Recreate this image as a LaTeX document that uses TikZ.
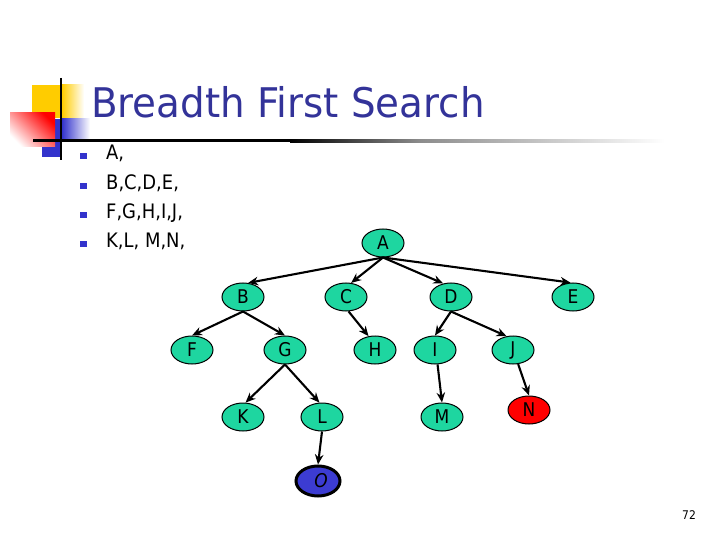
\documentclass[tikz,border=0pt]{standalone}
\usepackage{fontspec}
\setmainfont{DejaVu Sans}[FakeStretch=0.9]
\newfontfamily\titlefont{DejaVu Sans}[FakeStretch=0.95]
\usetikzlibrary{shapes.geometric,arrows.meta}
\definecolor{titleblue}{RGB}{51,51,153}
\definecolor{bulletblue}{RGB}{51,51,204}
\definecolor{nodegreen}{RGB}{30,214,160}
\definecolor{pixyellow}{RGB}{255,204,0}
\definecolor{goalblue}{RGB}{60,60,210}

\begin{document}
\begin{tikzpicture}[x=1bp, y=-1bp,
  vertex/.style={ellipse, draw, line width=1bp, fill=nodegreen,
    minimum width=42bp, minimum height=28bp, inner sep=0pt,
    font=\fontsize{19}{19}\selectfont},
  edge/.style={line width=2.1bp, -{Stealth[length=10bp,width=8.5bp]}},
  listline/.style={anchor=base west, inner sep=0pt, font=\fontsize{20}{20}\selectfont}]
  \useasboundingbox (0,0) rectangle (720,540);

  % corner squares
  \fill[pixyellow] (32,85) rectangle (62,118);
  \shade[left color=pixyellow, right color=white] (62,85) rectangle (84,118);
  \fill[bulletblue] (42,119) rectangle (62,157);
  \shade[left color=bulletblue, right color=white] (62,119) rectangle (90,140);
  \shade[top color=red, bottom color=white, shading angle=-45] (10,113) rectangle (55,147);
  \draw[line width=2.5bp] (61,78) -- (61,160);
  \fill[black] (33,139.5) rectangle (290,142.5);
  \shade[left color=black, right color=black!45] (290,139.5) rectangle (420,142.5);
  \shade[left color=black!45, right color=white] (420,139.5) rectangle (665,142.5);

  \node[anchor=base west, inner sep=0pt, text=titleblue,
    font=\titlefont\fontsize{41}{41}\selectfont] (title) at (91,118) {Breadth First Search};

  % the levels
  \fill[bulletblue] (80,153) rectangle (87,159);
  \node[listline] (l1) at (106,160) {A,};
  \fill[bulletblue] (80,183) rectangle (87,189);
  \node[listline] (l2) at (106,190) {B,C,D,E,};
  \fill[bulletblue] (80,212) rectangle (87,218);
  \node[listline] (l3) at (106,219) {F,G,H,I,J,};
  \fill[bulletblue] (80,241) rectangle (87,247);
  \node[listline] (l4) at (106,248) {K,L, M,N,};

  % the tree
  \node[vertex] (A) at (383,243) {A};

  \node[vertex] (B) at (243,297) {B};
  \node[vertex] (C) at (346,297) {C};
  \node[vertex] (D) at (451,297) {D};
  \node[vertex] (E) at (573,297) {E};

  \node[vertex] (F) at (192,350) {F};
  \node[vertex] (G) at (285,350) {G};
  \node[vertex] (H) at (375,350) {H};
  \node[vertex] (I) at (435,350) {I};
  \node[vertex] (J) at (513,350) {J};

  \node[vertex] (K) at (243,417) {K};
  \node[vertex] (L) at (322,417) {L};
  \node[vertex] (M) at (442,417) {M};
  \node[vertex, fill=red] (N) at (529,410) {N};

  \node[vertex, fill=goalblue, line width=3bp, minimum width=44bp,
    minimum height=30bp] (O) at (318,481) {\hspace{6bp}\itshape O};

  \draw[edge] (A.south) -- (B.70);
  \draw[edge] (A.south) -- (C.70);
  \draw[edge] (A.south) -- (D.120);
  \draw[edge] (A.south) -- (E.100);

  \draw[edge] (B.south) -- (F.north);
  \draw[edge] (B.south) -- (G.north);
  \draw[edge] (C.-80) -- (H.115);
  \draw[edge] (D.south) -- (I.north);
  \draw[edge] (D.south) -- (J.115);

  \draw[edge] (G.south) -- (K.80);
  \draw[edge] (G.south) -- (L.100);
  \draw[edge] (I.-80) -- (M.north);
  \draw[edge] (J.-70) -- (N.north);
  \draw[edge] (L.south) -- (O.north);

  \node[anchor=base, inner sep=0pt, font=\fontsize{12}{12}\selectfont] (page) at (689,519) {72};
\end{tikzpicture}
\end{document}
